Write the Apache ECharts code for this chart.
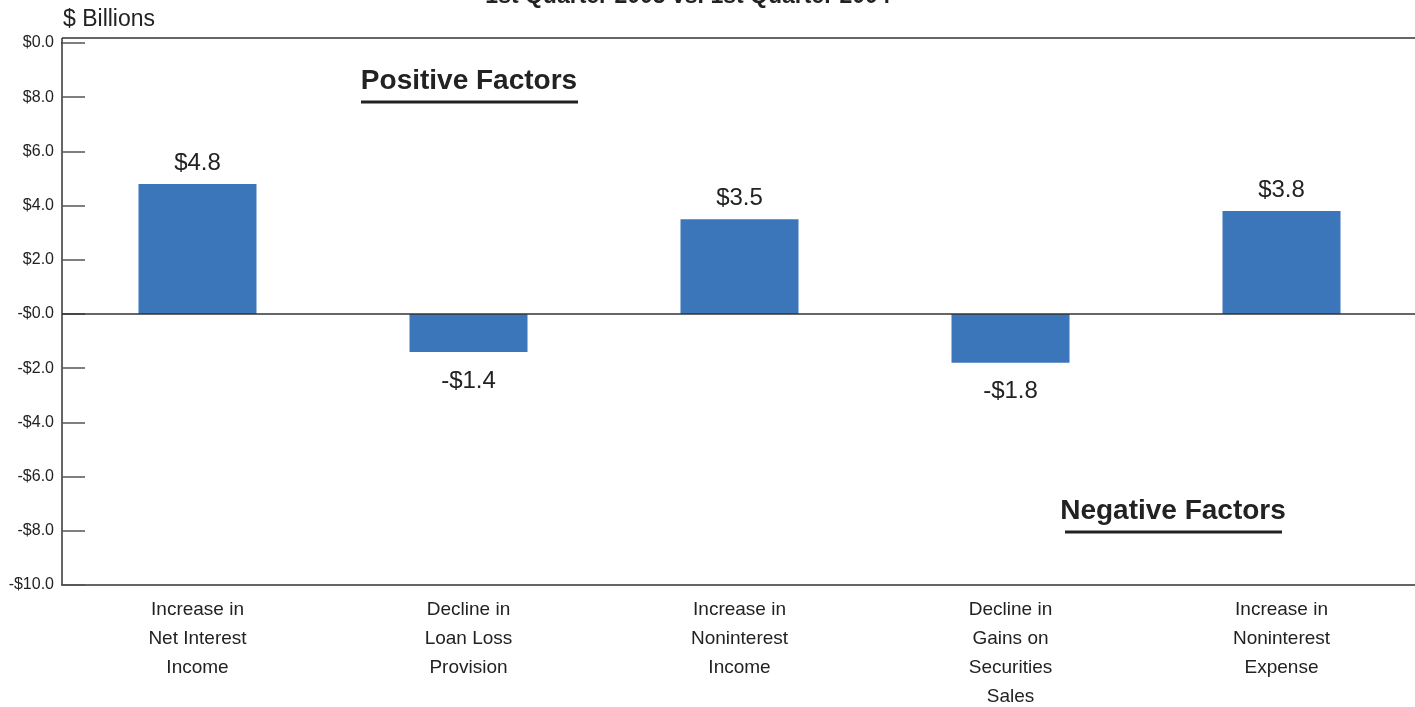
<!DOCTYPE html>
<html><head><meta charset="utf-8">
<script src="https://cdn.jsdelivr.net/npm/echarts@6/dist/echarts.min.js"></script>
<style>html,body{margin:0;padding:0;background:#fff;overflow:hidden}#c{width:1415px;height:707px}</style>
</head><body><div id="c"></div>
<script>
var categories = ["Increase in\nNet Interest\nIncome","Decline in\nLoan Loss\nProvision","Increase in\nNoninterest\nIncome","Decline in\nGains on\nSecurities\nSales","Increase in\nNoninterest\nExpense"];
var values = [4.8, -1.4, 3.5, -1.8, 3.8];
var valueLabels = ["$4.8","-$1.4","$3.5","-$1.8","$3.8"];
var tickValues = [-10,-8,-6,-4,-2,0,2,4,6,8,10];
var tickLabels = ["-$10.0","-$8.0","-$6.0","-$4.0","-$2.0","-$0.0","$2.0","$4.0","$6.0","$8.0","$0.0"];
var titleText = "1st Quarter 2005 vs. 1st Quarter 2004";
var FONT = "'Liberation Sans', Arial, Helvetica, sans-serif";

var chart = echarts.init(document.getElementById('c'), null, {renderer:'canvas', width:1415, height:707});
chart.setOption({
  animation:false,
  textStyle:{fontFamily:FONT},
  grid:{left:62, width:1355, top:43, height:542, containLabel:false, outerBoundsMode:'none'},
  xAxis:{type:'category', data:categories,
    axisLine:{onZero:false, lineStyle:{color:'#333', width:1.5}},
    axisTick:{show:false},
    axisLabel:{color:'#222', fontSize:19, lineHeight:29, margin:10, fontFamily:FONT}},
  yAxis:{type:'value', min:-10, max:10, interval:2,
    axisLine:{show:true, lineStyle:{color:'#333', width:1.5}},
    axisTick:{show:true, inside:true, length:23, lineStyle:{color:'#555', width:1.5}},
    splitLine:{show:false},
    axisLabel:{color:'#222', fontSize:16, margin:8, fontFamily:FONT,
      formatter:function(v){var i=tickValues.indexOf(Math.round(v)); return i>=0?tickLabels[i]:'';}}},
  series:[{type:'bar', barWidth:118,
    itemStyle:{color:'#3c76ba'},
    data: values.map(function(v,i){return {value:v, label:{show:true, position: v>=0?'top':'bottom', distance: v>=0?9:17,
      formatter: valueLabels[i], fontSize:24, color:'#222', fontFamily:FONT}};}),
    markLine:{silent:true, symbol:['none','none'], label:{show:false},
      lineStyle:{color:'#333', width:1.5, type:'solid'}, data:[{yAxis:0}]}
  }],
  graphic:[
    {type:'line', shape:{x1:62,y1:38,x2:1415,y2:38}, style:{stroke:'#333', lineWidth:1.5}},
    {type:'line', shape:{x1:62,y1:38,x2:62,y2:44}, style:{stroke:'#333', lineWidth:1.5}},
    {type:'text', x:63, y:20, style:{text:'$ Billions', fontSize:23, fill:'#222', fontFamily:FONT, verticalAlign:'middle', textVerticalAlign:'middle'}},
    {type:'text', x:688, y:-3, style:{text:titleText, fontSize:23, fontWeight:'bold', fill:'#222', textAlign:'center', fontFamily:FONT, verticalAlign:'middle', textVerticalAlign:'middle'}},
    {type:'text', x:469, y:81, style:{text:'Positive Factors', fontSize:28, fontWeight:'bold', fill:'#222', textAlign:'center', fontFamily:FONT, verticalAlign:'middle', textVerticalAlign:'middle'}},
    {type:'line', shape:{x1:361,y1:102,x2:578,y2:102}, style:{stroke:'#222', lineWidth:3}},
    {type:'text', x:1173, y:511, style:{text:'Negative Factors', fontSize:28, fontWeight:'bold', fill:'#222', textAlign:'center', fontFamily:FONT, verticalAlign:'middle', textVerticalAlign:'middle'}},
    {type:'line', shape:{x1:1065,y1:532,x2:1282,y2:532}, style:{stroke:'#222', lineWidth:3}}
  ]
});
</script></body></html>
